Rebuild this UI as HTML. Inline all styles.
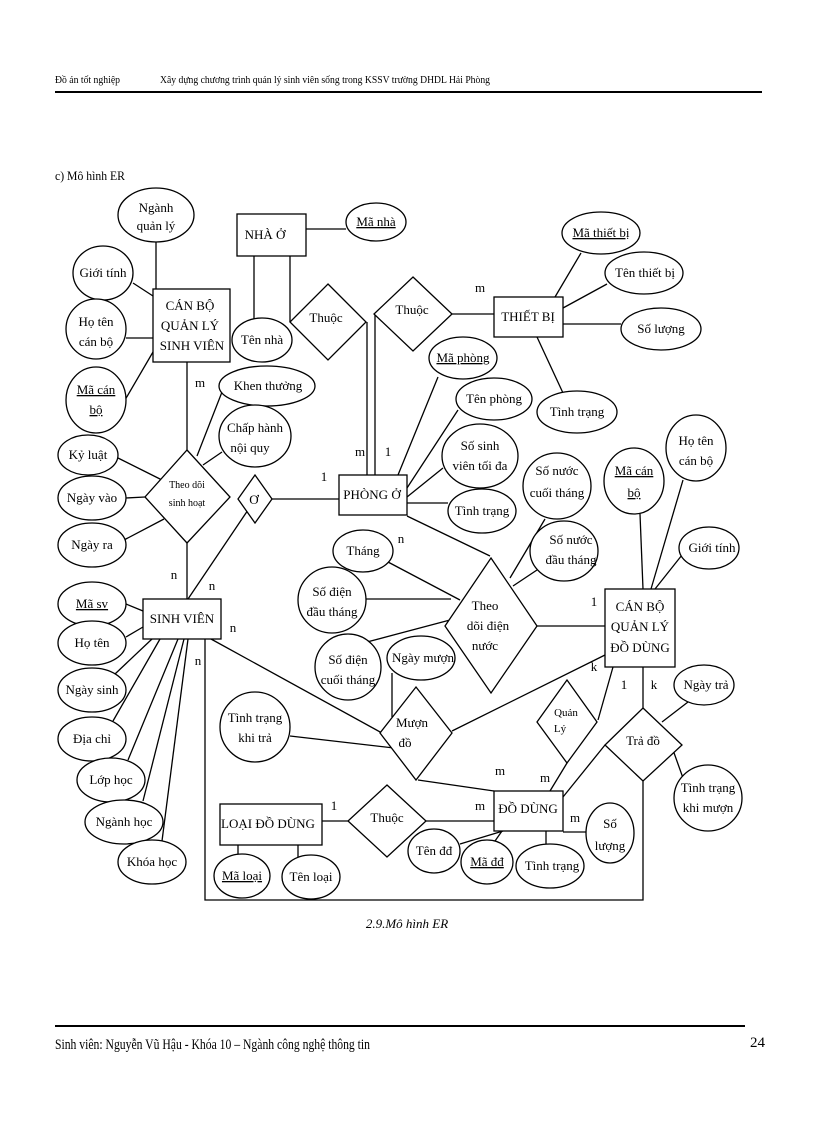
<!DOCTYPE html>
<html><head><meta charset="utf-8"><style>
body{margin:0;background:#fff}
svg{display:block}
text{font-family:"Liberation Serif",serif;font-size:13px;fill:#000}
.u{text-decoration:underline}
</style></head><body>
<svg width="816" height="1123" viewBox="0 0 816 1123" xmlns="http://www.w3.org/2000/svg">
<g>
<text x="55" y="83" style="font-size:11px" textLength="65" lengthAdjust="spacingAndGlyphs">Đồ án tốt nghiệp</text>
<text x="160" y="83" style="font-size:11px" textLength="330" lengthAdjust="spacingAndGlyphs">Xây dựng chương trình quản lý sinh viên sống trong KSSV trường DHDL Hải Phòng</text>
<line x1="55" y1="92" x2="762" y2="92" stroke="#000" stroke-width="2"/>
<text x="55" y="180" style="font-size:13px" textLength="70" lengthAdjust="spacingAndGlyphs">c) Mô hình ER</text>
<text x="407" y="928" text-anchor="middle" style="font-size:13px;font-style:italic">2.9.Mô hình ER</text>
<line x1="55" y1="1026" x2="745" y2="1026" stroke="#000" stroke-width="2"/>
<text x="55" y="1049" style="font-size:15px" textLength="315" lengthAdjust="spacingAndGlyphs">Sinh viên: Nguyễn Vũ Hậu - Khóa 10 – Ngành công nghệ thông tin</text>
<text x="750" y="1047" style="font-size:15px">24</text>
</g>
<g stroke="#000" stroke-width="1.3" fill="none">
<line x1="254" y1="256" x2="254" y2="320"/>
<line x1="290" y1="256" x2="290" y2="322"/>
<line x1="306" y1="229" x2="346" y2="229"/>
<line x1="367" y1="322" x2="367" y2="475"/>
<line x1="375" y1="314" x2="375" y2="475"/>
<line x1="452" y1="314" x2="494" y2="314"/>
<line x1="555" y1="297" x2="581" y2="253"/>
<line x1="563" y1="308" x2="607" y2="284"/>
<line x1="563" y1="324" x2="621" y2="324"/>
<line x1="537" y1="337" x2="563" y2="393"/>
<line x1="398" y1="475" x2="438" y2="377"/>
<line x1="407" y1="488" x2="458" y2="410"/>
<line x1="407" y1="497" x2="443" y2="468"/>
<line x1="407" y1="503" x2="448" y2="503"/>
<line x1="407" y1="516" x2="490" y2="556"/>
<line x1="271" y1="499" x2="339" y2="499"/>
<line x1="248" y1="510" x2="188" y2="599"/>
<line x1="187" y1="362" x2="187" y2="450"/>
<line x1="187" y1="543" x2="187" y2="599"/>
<line x1="118" y1="458" x2="162" y2="480"/>
<line x1="126" y1="498" x2="145" y2="497"/>
<line x1="124" y1="540" x2="164" y2="519"/>
<line x1="222" y1="392" x2="197" y2="456"/>
<line x1="222" y1="452" x2="203" y2="465"/>
<line x1="156" y1="242" x2="156" y2="289"/>
<line x1="133" y1="283" x2="153" y2="296"/>
<line x1="126" y1="338" x2="153" y2="338"/>
<line x1="118" y1="412" x2="153" y2="352"/>
<line x1="126" y1="604" x2="143" y2="611"/>
<line x1="126" y1="637" x2="143" y2="627"/>
<line x1="115" y1="674" x2="152" y2="639"/>
<line x1="113" y1="721" x2="160" y2="639"/>
<line x1="128" y1="760" x2="178" y2="639"/>
<line x1="143" y1="801" x2="184" y2="639"/>
<line x1="162" y1="841" x2="188" y2="639"/>
<line x1="211" y1="639" x2="382" y2="733"/>
<polyline points="205,639 205,900 643,900 643,780"/>
<line x1="290" y1="736" x2="394" y2="748"/>
<line x1="392" y1="673" x2="392" y2="717"/>
<line x1="452" y1="731" x2="605" y2="655"/>
<line x1="418" y1="780" x2="494" y2="791"/>
<line x1="537" y1="626" x2="605" y2="626"/>
<line x1="388" y1="562" x2="460" y2="600"/>
<line x1="366" y1="599" x2="451" y2="599"/>
<line x1="367" y1="642" x2="450" y2="620"/>
<line x1="545" y1="519" x2="510" y2="578"/>
<line x1="537" y1="570" x2="513" y2="586"/>
<line x1="640" y1="514" x2="643" y2="589"/>
<line x1="683" y1="480" x2="651" y2="589"/>
<line x1="682" y1="555" x2="655" y2="589"/>
<line x1="613" y1="667" x2="598" y2="720"/>
<line x1="567" y1="763" x2="550" y2="791"/>
<line x1="643" y1="667" x2="643" y2="708"/>
<line x1="605" y1="745" x2="563" y2="797"/>
<line x1="688" y1="702" x2="662" y2="722"/>
<line x1="673" y1="750" x2="683" y2="778"/>
<line x1="563" y1="832" x2="586" y2="832"/>
<line x1="460" y1="844" x2="503" y2="831"/>
<line x1="495" y1="841" x2="502" y2="831"/>
<line x1="546" y1="831" x2="546" y2="844"/>
<line x1="426" y1="821" x2="494" y2="821"/>
<line x1="322" y1="821" x2="348" y2="821"/>
<line x1="238" y1="845" x2="238" y2="855"/>
<line x1="298" y1="845" x2="298" y2="857"/>
</g>
<g stroke="#000" stroke-width="1.3" fill="#fff">
<rect x="237" y="214" width="69" height="42"/>
<rect x="153" y="289" width="77" height="73"/>
<rect x="494" y="297" width="69" height="40"/>
<rect x="339" y="475" width="68" height="40"/>
<rect x="143" y="599" width="78" height="40"/>
<rect x="605" y="589" width="70" height="78"/>
<rect x="220" y="804" width="102" height="41"/>
<rect x="494" y="791" width="69" height="40"/>
<polygon points="328,284 366,322 328,360 290,322"/>
<polygon points="413,277 452,314 413,351 374,314"/>
<polygon points="187,450 230,497 187,543 145,497"/>
<polygon points="255,475 272,499 255,523 238,499"/>
<polygon points="491,558 537,626 491,693 445,626"/>
<polygon points="416,687 452,733 416,780 380,733"/>
<polygon points="567,680 597,722 567,763 537,722"/>
<polygon points="643,708 682,745 643,781 605,745"/>
<polygon points="387,785 426,821 387,857 348,821"/>
<ellipse cx="156" cy="215" rx="38" ry="27"/>
<ellipse cx="103" cy="273" rx="30" ry="27"/>
<ellipse cx="96" cy="329" rx="30" ry="30"/>
<ellipse cx="96" cy="400" rx="30" ry="33"/>
<ellipse cx="376" cy="222" rx="30" ry="19"/>
<ellipse cx="262" cy="340" rx="30" ry="22"/>
<ellipse cx="267" cy="386" rx="48" ry="20"/>
<ellipse cx="255" cy="436" rx="36" ry="31"/>
<ellipse cx="88" cy="455" rx="30" ry="20"/>
<ellipse cx="92" cy="498" rx="34" ry="22"/>
<ellipse cx="92" cy="545" rx="34" ry="22"/>
<ellipse cx="601" cy="233" rx="39" ry="21"/>
<ellipse cx="644" cy="273" rx="39" ry="21"/>
<ellipse cx="661" cy="329" rx="40" ry="21"/>
<ellipse cx="463" cy="358" rx="34" ry="21"/>
<ellipse cx="494" cy="399" rx="38" ry="21"/>
<ellipse cx="480" cy="456" rx="38" ry="32"/>
<ellipse cx="482" cy="511" rx="34" ry="22"/>
<ellipse cx="577" cy="412" rx="40" ry="21"/>
<ellipse cx="557" cy="486" rx="34" ry="33"/>
<ellipse cx="564" cy="551" rx="34" ry="30"/>
<ellipse cx="634" cy="481" rx="30" ry="33"/>
<ellipse cx="696" cy="448" rx="30" ry="33"/>
<ellipse cx="709" cy="548" rx="30" ry="21"/>
<ellipse cx="363" cy="551" rx="30" ry="21"/>
<ellipse cx="332" cy="600" rx="34" ry="33"/>
<ellipse cx="348" cy="667" rx="33" ry="33"/>
<ellipse cx="421" cy="658" rx="34" ry="22"/>
<ellipse cx="92" cy="604" rx="34" ry="22"/>
<ellipse cx="92" cy="643" rx="34" ry="22"/>
<ellipse cx="92" cy="690" rx="34" ry="22"/>
<ellipse cx="92" cy="739" rx="34" ry="22"/>
<ellipse cx="111" cy="780" rx="34" ry="22"/>
<ellipse cx="124" cy="822" rx="39" ry="22"/>
<ellipse cx="152" cy="862" rx="34" ry="22"/>
<ellipse cx="255" cy="727" rx="35" ry="35"/>
<ellipse cx="704" cy="685" rx="30" ry="20"/>
<ellipse cx="708" cy="798" rx="34" ry="33"/>
<ellipse cx="610" cy="833" rx="24" ry="30"/>
<ellipse cx="434" cy="851" rx="26" ry="22"/>
<ellipse cx="487" cy="862" rx="26" ry="22"/>
<ellipse cx="550" cy="866" rx="34" ry="22"/>
<ellipse cx="242" cy="876" rx="28" ry="22"/>
<ellipse cx="311" cy="877" rx="29" ry="22"/>
</g>
<g text-anchor="middle">
<text x="265" y="239">NHÀ Ở</text>
<text x="190" y="310">CÁN BỘ</text><text x="190" y="330">QUẢN LÝ</text><text x="192" y="350">SINH VIÊN</text>
<text x="528" y="321">THIẾT BỊ</text>
<text x="372" y="499">PHÒNG Ở</text>
<text x="182" y="623">SINH VIÊN</text>
<text x="640" y="611">CÁN BỘ</text><text x="640" y="631">QUẢN LÝ</text><text x="640" y="652">ĐỒ DÙNG</text>
<text x="268" y="828">LOẠI ĐỒ DÙNG</text>
<text x="528" y="813">ĐỒ DÙNG</text>
<text x="326" y="322">Thuộc</text>
<text x="412" y="314">Thuộc</text>
<text x="187" y="488" style="font-size:10px">Theo dõi</text><text x="187" y="506" style="font-size:10px">sinh hoạt</text>
<text x="254" y="504">Ơ</text>
<text x="485" y="610">Theo</text><text x="488" y="630">dõi điện</text><text x="485" y="650">nước</text>
<text x="412" y="727">Mượn</text><text x="405" y="747">đồ</text>
<text x="566" y="716" style="font-size:11px">Quản</text><text x="560" y="732" style="font-size:11px">Lý</text>
<text x="643" y="745">Trả đồ</text>
<text x="387" y="822">Thuộc</text>
<text x="156" y="212">Ngành</text><text x="156" y="230">quản lý</text>
<text x="103" y="277">Giới tính</text>
<text x="96" y="326">Họ tên</text><text x="96" y="346">cán bộ</text>
<text x="96" y="394" class="u">Mã cán</text><text x="96" y="414" class="u">bộ</text>
<text x="376" y="226" class="u">Mã nhà</text>
<text x="262" y="344">Tên nhà</text>
<text x="268" y="390">Khen thưởng</text>
<text x="255" y="432">Chấp hành</text><text x="250" y="452">nội quy</text>
<text x="88" y="459">Kỷ luật</text>
<text x="92" y="502">Ngày vào</text>
<text x="92" y="549">Ngày ra</text>
<text x="601" y="237" class="u">Mã thiết bị</text>
<text x="645" y="277">Tên thiết bị</text>
<text x="661" y="333">Số lượng</text>
<text x="463" y="362" class="u">Mã phòng</text>
<text x="494" y="403">Tên phòng</text>
<text x="480" y="450">Số sinh</text><text x="480" y="470">viên tối đa</text>
<text x="482" y="515">Tình trạng</text>
<text x="577" y="416">Tình trạng</text>
<text x="557" y="475">Số nước</text><text x="557" y="497">cuối tháng</text>
<text x="571" y="544">Số nước</text><text x="571" y="564">đầu tháng</text>
<text x="634" y="475" class="u">Mã cán</text><text x="634" y="497" class="u">bộ</text>
<text x="696" y="445">Họ tên</text><text x="696" y="465">cán bộ</text>
<text x="712" y="552">Giới tính</text>
<text x="363" y="555">Tháng</text>
<text x="332" y="596">Số điện</text><text x="332" y="616">đầu tháng</text>
<text x="348" y="664">Số điện</text><text x="348" y="684">cuối tháng</text>
<text x="423" y="662">Ngày mượn</text>
<text x="92" y="608" class="u">Mã sv</text>
<text x="92" y="647">Họ tên</text>
<text x="92" y="694">Ngày sinh</text>
<text x="92" y="743">Địa chỉ</text>
<text x="111" y="784">Lớp học</text>
<text x="124" y="826">Ngành học</text>
<text x="152" y="866">Khóa học</text>
<text x="255" y="722">Tình trạng</text><text x="255" y="742">khi trả</text>
<text x="706" y="689">Ngày trả</text>
<text x="708" y="792">Tình trạng</text><text x="708" y="812">khi mượn</text>
<text x="610" y="828">Số</text><text x="610" y="850">lượng</text>
<text x="434" y="855">Tên đđ</text>
<text x="487" y="866" class="u">Mã đđ</text>
<text x="552" y="870">Tình trạng</text>
<text x="242" y="880" class="u">Mã loại</text>
<text x="311" y="881">Tên loại</text>
<text x="200" y="387">m</text>
<text x="360" y="456">m</text>
<text x="388" y="456">1</text>
<text x="480" y="292">m</text>
<text x="324" y="481">1</text>
<text x="174" y="579">n</text>
<text x="212" y="590">n</text>
<text x="233" y="632">n</text>
<text x="198" y="665">n</text>
<text x="401" y="543">n</text>
<text x="594" y="606">1</text>
<text x="594" y="671">k</text>
<text x="624" y="689">1</text>
<text x="654" y="689">k</text>
<text x="500" y="775">m</text>
<text x="545" y="782">m</text>
<text x="480" y="810">m</text>
<text x="575" y="822">m</text>
<text x="334" y="810">1</text>
</g>
</svg>
</body></html>
